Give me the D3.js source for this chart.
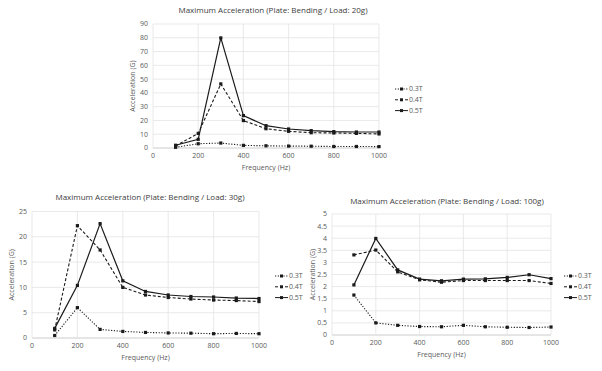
<!DOCTYPE html>
<html>
<head>
<meta charset="utf-8">
<script src="https://cdn.jsdelivr.net/npm/d3@7"></script>
<style>
  body { margin: 0; background: #fff; }
  svg { display: block; font-family: "Open Sans", "Noto Sans", sans-serif; }
</style>
</head>
<body>
<svg id="chart" width="602" height="371"></svg>
<script>
// frequencies (Hz) shared by all three plots
var freqs = [100, 200, 300, 400, 500, 600, 700, 800, 900, 1000];
var seriesNames = ['0.3T', '0.4T', '0.5T'];
var xTicks = [0, 200, 400, 600, 800, 1000];

// load 20g
var load20_03 = [0.5, 3.1, 3.6, 1.9, 1.6, 1.4, 1.3, 1.1, 1.1, 1.0];
var load20_04 = [1.5, 10.6, 46.5, 19.9, 14.0, 12.1, 11.1, 10.9, 10.6, 10.2];
var load20_05 = [2.0, 6.3, 79.9, 23.5, 16.2, 13.8, 12.6, 11.9, 11.6, 11.6];

// load 30g
var load30_03 = [0.5, 6.0, 1.7, 1.3, 1.1, 1.0, 0.95, 0.85, 0.9, 0.85];
var load30_04 = [1.6, 22.2, 17.4, 10.0, 8.5, 8.0, 7.7, 7.5, 7.4, 7.2];
var load30_05 = [1.9, 10.4, 22.6, 11.3, 9.2, 8.5, 8.2, 8.1, 7.9, 7.8];

// load 100g
var load100_03 = [1.65, 0.5, 0.4, 0.35, 0.34, 0.4, 0.34, 0.32, 0.31, 0.33];
var load100_04 = [3.31, 3.51, 2.61, 2.28, 2.18, 2.25, 2.25, 2.25, 2.25, 2.13];
var load100_05 = [2.07, 3.99, 2.69, 2.31, 2.24, 2.31, 2.32, 2.38, 2.49, 2.33];

var svg = d3.select('#chart');
var dashes = { '0.3T': '1.2,1.6', '0.4T': '3,2', '0.5T': null };
var ink = '#1a1a1a';
var textCol = '#595959';

function drawChart(c) {
    var g = svg.append('g');
    var x = d3.scaleLinear().domain([0, 1000]).range([c.left, c.right]);
    var y = d3.scaleLinear().domain([0, c.yMax]).range([c.bottom, c.top]);

    // gridlines
    g.selectAll('.hg').data(c.yTicks).enter().append('line')
        .attr('x1', c.left).attr('x2', c.right)
        .attr('y1', function (d) { return y(d); })
        .attr('y2', function (d) { return y(d); })
        .attr('stroke', function (d) { return d === 0 ? '#bfbfbf' : '#e3e3e3'; })
        .attr('stroke-width', 0.8);
    g.selectAll('.vg').data(xTicks).enter().append('line')
        .attr('y1', c.top).attr('y2', c.bottom)
        .attr('x1', function (d) { return x(d); })
        .attr('x2', function (d) { return x(d); })
        .attr('stroke', '#e3e3e3')
        .attr('stroke-width', 0.8);

    // tick labels
    g.selectAll('.yl').data(c.yTicks).enter().append('text')
        .attr('x', c.left - 5)
        .attr('y', function (d) { return y(d); })
        .attr('dy', '0.35em')
        .attr('text-anchor', 'end')
        .attr('font-size', 7)
        .attr('fill', textCol)
        .text(function (d) { return d; });
    g.selectAll('.xl').data(xTicks).enter().append('text')
        .attr('x', function (d) { return x(d); })
        .attr('y', c.bottom + 10)
        .attr('text-anchor', 'middle')
        .attr('font-size', 7)
        .attr('fill', textCol)
        .text(function (d) { return d; });

    // titles
    g.append('text')
        .attr('x', c.titleX).attr('y', c.titleY)
        .attr('text-anchor', 'middle')
        .attr('font-size', 8)
        .attr('fill', '#404040')
        .text(c.title);
    g.append('text')
        .attr('x', (c.left + c.right) / 2).attr('y', c.bottom + 22)
        .attr('text-anchor', 'middle')
        .attr('font-size', 7)
        .attr('fill', textCol)
        .text('Frequency (Hz)');
    g.append('text')
        .attr('transform', 'translate(' + c.yTitleX + ',' + (c.top + c.bottom) / 2 + ') rotate(-90)')
        .attr('text-anchor', 'middle')
        .attr('font-size', 7)
        .attr('fill', textCol)
        .text('Acceleration (G)');

    // series
    var line = d3.line()
        .x(function (d, i) { return x(freqs[i]); })
        .y(function (d) { return y(d); });
    c.series.forEach(function (vals, k) {
        var name = seriesNames[k];
        g.append('path')
            .attr('d', line(vals))
            .attr('fill', 'none')
            .attr('stroke', ink)
            .attr('stroke-width', name === '0.5T' ? 1.2 : 1.1)
            .attr('stroke-dasharray', dashes[name]);
        g.selectAll('.m' + k).data(vals).enter().append('rect')
            .attr('x', function (d, i) { return x(freqs[i]) - 1.6; })
            .attr('y', function (d) { return y(d) - 1.6; })
            .attr('width', 3.2).attr('height', 3.2)
            .attr('fill', ink);

        // legend entry
        var ly = c.legY + k * 10.8;
        g.append('line')
            .attr('x1', c.legX).attr('x2', c.legX + 13)
            .attr('y1', ly).attr('y2', ly)
            .attr('stroke', ink)
            .attr('stroke-width', 1)
            .attr('stroke-dasharray', dashes[name]);
        g.append('rect')
            .attr('x', c.legX + 6.5 - 1.5).attr('y', ly - 1.5)
            .attr('width', 3).attr('height', 3)
            .attr('fill', ink);
        g.append('text')
            .attr('x', c.legX + 14).attr('y', ly)
            .attr('dy', '0.35em')
            .attr('font-size', 7)
            .attr('fill', textCol)
            .text(name);
    });
}

drawChart({
    title: 'Maximum Acceleration (Plate: Bending / Load: 20g)',
    titleX: 273, titleY: 13,
    left: 153, right: 379, top: 24, bottom: 148,
    yMax: 90, yTicks: d3.range(0, 91, 10),
    yTitleX: 135,
    legX: 395, legY: 89,
    series: [load20_03, load20_04, load20_05]
});

drawChart({
    title: 'Maximum Acceleration (Plate: Bending / Load: 30g)',
    titleX: 150, titleY: 200,
    left: 32, right: 259, top: 211.5, bottom: 338,
    yMax: 25, yTicks: d3.range(0, 26, 5),
    yTitleX: 14,
    legX: 275, legY: 276,
    series: [load30_03, load30_04, load30_05]
});

drawChart({
    title: 'Maximum Acceleration (Plate: Bending / Load: 100g)',
    titleX: 447, titleY: 204,
    left: 332, right: 551, top: 214, bottom: 335,
    yMax: 5, yTicks: d3.range(0, 5.01, 0.5).map(function (d) { return Math.round(d * 10) / 10; }),
    yTitleX: 315,
    legX: 564, legY: 276,
    series: [load100_03, load100_04, load100_05]
});
</script>
</body>
</html>
